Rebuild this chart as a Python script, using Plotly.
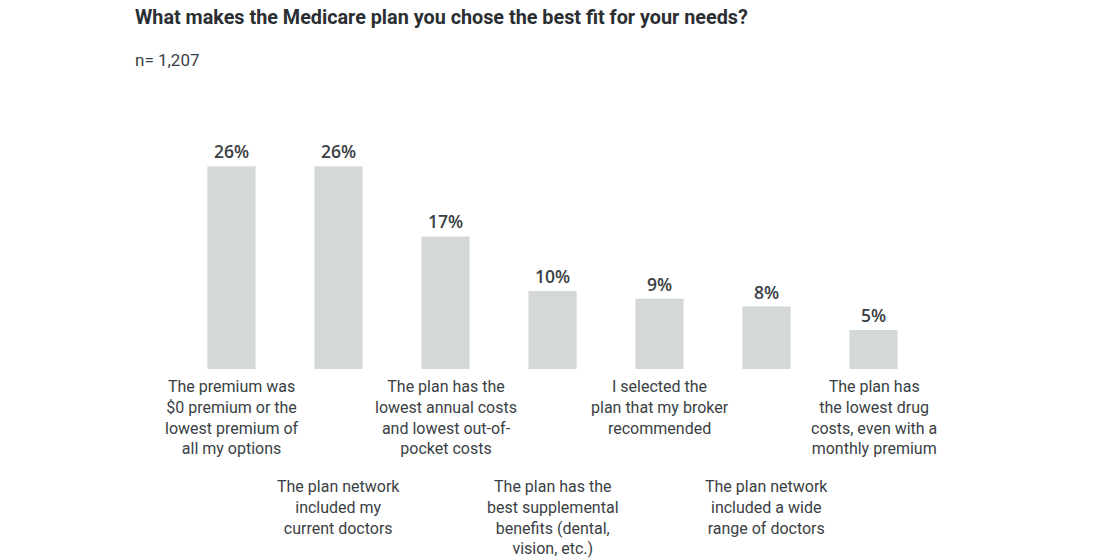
import plotly.graph_objects as go

categories = [
    "The premium was<br>$0 premium or the<br>lowest premium of<br>all my options",
    "The plan network<br>included my<br>current doctors",
    "The plan has the<br>lowest annual costs<br>and lowest out-of-<br>pocket costs",
    "The plan has the<br>best supplemental<br>benefits (dental,<br>vision, etc.)",
    "I selected the<br>plan that my broker<br>recommended",
    "The plan network<br>included a wide<br>range of doctors",
    "The plan has<br>the lowest drug<br>costs, even with a<br>monthly premium",
]
values = [26, 26, 17, 10, 9, 8, 5]

TEXT = "#3a3f45"
BAR = "#d5d8d9"
NARROW = "Roboto, sans-serif"

x = list(range(len(values)))

fig = go.Figure(go.Bar(
    x=x, y=values, width=0.45,
    marker=dict(color=BAR, line=dict(width=0)),
    text=[f"{v}%" for v in values], textposition="outside",
    textfont=dict(family="Open Sans, sans-serif", size=17.5, color=TEXT, weight=600),
    cliponaxis=False, hoverinfo="skip",
))

annotations = [
    dict(text="<b>What makes the Medicare plan you chose the best fit for your needs?</b>",
         xref="paper", yref="paper", x=-0.06, y=1.502, xanchor="left", yanchor="middle",
         showarrow=False, font=dict(family=NARROW, size=19.8, color="#2b2f33")),
    dict(text="n= 1,207", xref="paper", yref="paper", x=-0.06, y=1.32,
         xanchor="left", yanchor="middle", showarrow=False,
         font=dict(family=NARROW, size=17, color=TEXT)),
]
shapes = []
for i, label in enumerate(categories):
    low = i % 2 == 1
    annotations.append(dict(
        text=label, x=i, y=0, xref="x", yref="y", xanchor="center", yanchor="top",
        yshift=-106 if low else -6, showarrow=False, align="center",
        font=dict(family=NARROW, size=16, color=TEXT),
    ))
    if low:
        shapes.append(dict(type="line", xref="x", yref="y", ysizemode="pixel",
                           yanchor=0, x0=i, x1=i, y0=-9, y1=-99,
                           line=dict(color="#555a5f", width=1.5)))

fig.update_layout(
    width=1105, height=559,
    margin=dict(l=170, r=186, t=127, b=198),
    paper_bgcolor="white", plot_bgcolor="white",
    showlegend=False,
    xaxis=dict(range=[-0.5, 6.5], visible=False, fixedrange=True),
    yaxis=dict(range=[0, 30], visible=False, fixedrange=True),
    annotations=annotations, shapes=shapes,
)

fig.write_html("out.html")
